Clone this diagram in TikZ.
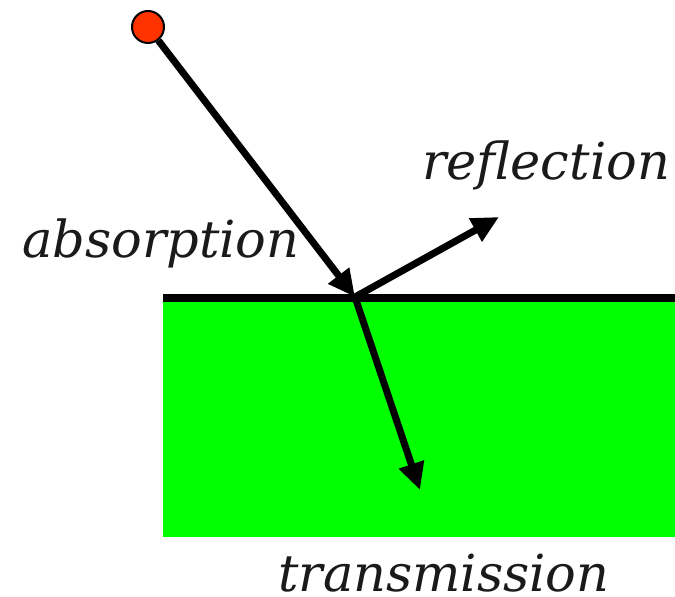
\documentclass[tikz,border=0pt]{standalone}
\usepackage{fontspec}
\setmainfont{DejaVu Serif}
\usetikzlibrary{arrows.meta}
\definecolor{txt}{HTML}{1A1A1A}
\definecolor{grn}{HTML}{00FF00}
\definecolor{ballred}{HTML}{FF3300}
\tikzset{
  ray/.style={line width=7pt, -{Triangle[length=27pt,width=25pt]}},
  lbl/.style={text=txt, font=\fontsize{51}{60}\selectfont\itshape, inner sep=0pt, anchor=base west}
}
\begin{document}
\begin{tikzpicture}[x=1pt,y=1pt]
\useasboundingbox (0,0) rectangle (675,597);
\fill[grn] (163,60) rectangle (675,295);
\coordinate (L) at (163,299);
\coordinate (R) at (675,299);
\draw[line width=8pt] (L) -- (R);
\node[circle, draw=black, line width=2pt, fill=ballred, minimum size=32pt, inner sep=0pt] (src) at (148,570) {};
\coordinate (P) at (355,300);
\coordinate (refl) at (499,380);
\coordinate (trans) at (420,107);
\draw[ray] (src) -- (P);
\draw[ray] (P) -- (refl);
\draw[ray] (P) -- (trans);
\node[lbl] (abs) at (22,339) {absorption};
\node[lbl] (ref) at (422,417) {reflection};
\node[lbl] (tra) at (278,5) {transmission};
\end{tikzpicture}
\end{document}
